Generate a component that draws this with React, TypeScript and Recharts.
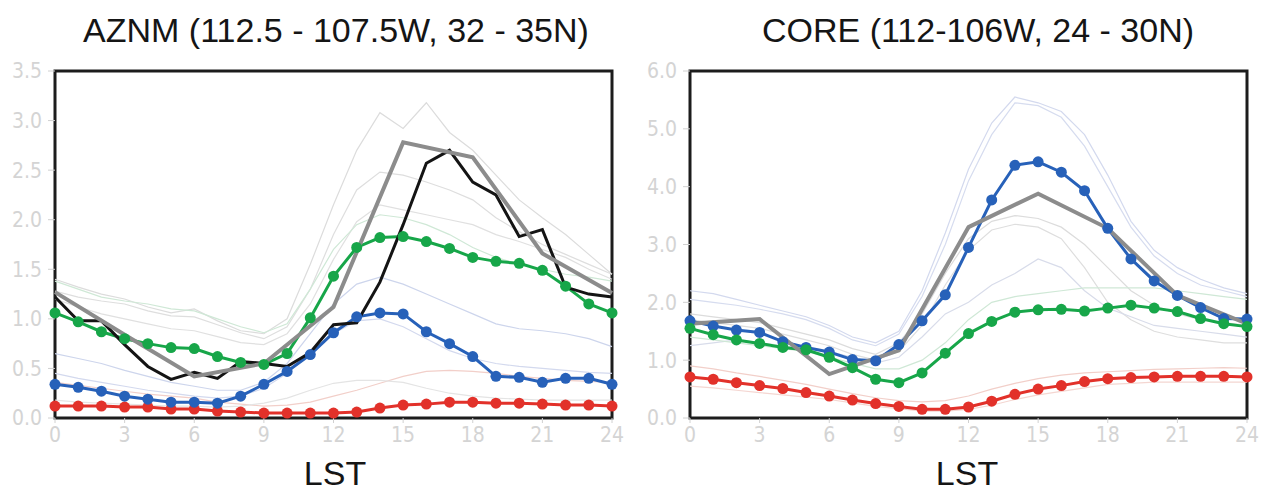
import { LineChart, Line, XAxis, YAxis, ReferenceArea } from "recharts";

const hours = [0, 1, 2, 3, 4, 5, 6, 7, 8, 9, 10, 11, 12, 13, 14, 15, 16, 17, 18, 19, 20, 21, 22, 23, 24];
const hourTicks = [0, 3, 6, 9, 12, 15, 18, 21, 24];

// AZNM panel
const azGreen = [1.06, 0.97, 0.87, 0.8, 0.75, 0.71, 0.7, 0.62, 0.56, 0.54, 0.65, 1.01, 1.43, 1.72, 1.82, 1.83, 1.78, 1.71, 1.62, 1.58, 1.56, 1.49, 1.33, 1.15, 1.06];
const azBlue = [0.34, 0.31, 0.27, 0.22, 0.19, 0.16, 0.16, 0.15, 0.22, 0.34, 0.47, 0.64, 0.86, 1.02, 1.06, 1.05, 0.87, 0.75, 0.62, 0.42, 0.41, 0.36, 0.4, 0.4, 0.34];
const azRed = [0.12, 0.12, 0.12, 0.11, 0.11, 0.09, 0.09, 0.07, 0.06, 0.05, 0.05, 0.05, 0.05, 0.06, 0.1, 0.13, 0.14, 0.16, 0.16, 0.15, 0.15, 0.14, 0.13, 0.13, 0.12];
const azObs = [1.22, 0.98, 0.98, 0.74, 0.52, 0.39, 0.46, 0.4, 0.57, 0.55, 0.52, 0.66, 0.94, 0.96, 1.37, 1.95, 2.57, 2.7, 2.38, 2.25, 1.83, 1.9, 1.32, 1.25, 1.22];
const azGray = [1.27, null, null, 0.84, null, null, 0.42, null, null, 0.55, null, null, 1.12, null, null, 2.78, null, null, 2.63, null, null, 1.66, null, null, 1.26];
const azFaint = [
  { color: "#dcdcdc", values: [1.4, 1.32, 1.25, 1.2, 1.12, 1.06, 1.1, 0.98, 0.88, 0.85, 1.0, 1.55, 2.15, 2.7, 3.08, 2.92, 3.18, 2.88, 2.7, 2.45, 2.2, 2.02, 1.85, 1.65, 1.45] },
  { color: "#dedede", values: [1.28, 1.22, 1.18, 1.15, 1.08, 1.03, 1.02, 0.94, 0.86, 0.8, 0.92, 1.3, 1.85, 2.3, 2.48, 2.45, 2.38, 2.3, 2.2, 2.02, 1.88, 1.75, 1.65, 1.55, 1.45] },
  { color: "#e0e0e0", values: [1.2, 1.12, 1.05, 1.0, 0.95, 0.9, 0.88, 0.82, 0.76, 0.74, 0.85, 1.15, 1.6, 1.98, 2.15, 2.1, 2.05, 2.0, 1.95, 1.85, 1.78, 1.7, 1.62, 1.5, 1.4] },
  { color: "#cfe8d6", values: [1.38, 1.3, 1.22, 1.18, 1.15, 1.1, 1.08, 1.0, 0.92, 0.86, 0.95, 1.3, 1.7, 1.95, 2.05, 2.02, 1.95, 1.85, 1.72, 1.62, 1.55, 1.5, 1.45, 1.42, 1.38] },
  { color: "#cdd5ec", values: [0.65, 0.6, 0.55, 0.48, 0.42, 0.36, 0.32, 0.28, 0.28, 0.36, 0.55, 0.85, 1.15, 1.35, 1.42, 1.35, 1.25, 1.15, 1.05, 0.95, 0.9, 0.88, 0.85, 0.8, 0.72] },
  { color: "#d3d9ee", values: [0.45, 0.4, 0.36, 0.32, 0.28, 0.25, 0.22, 0.2, 0.22, 0.3, 0.45, 0.65, 0.85, 0.98, 1.0, 0.92, 0.8, 0.68, 0.6, 0.55, 0.52, 0.5, 0.48, 0.46, 0.45] },
  { color: "#f2cfc9", values: [0.36, 0.33, 0.3, 0.27, 0.24, 0.22, 0.2, 0.16, 0.14, 0.12, 0.13, 0.16, 0.22, 0.28, 0.35, 0.42, 0.47, 0.48, 0.47, 0.45, 0.42, 0.4, 0.38, 0.37, 0.36] },
  { color: "#e4e4e4", values: [0.18, 0.16, 0.15, 0.14, 0.13, 0.12, 0.12, 0.11, 0.12, 0.15, 0.2, 0.28, 0.35, 0.38, 0.38, 0.36, 0.3, 0.25, 0.22, 0.2, 0.19, 0.18, 0.18, 0.18, 0.18] },
];
const azTicks = [0, 0.5, 1, 1.5, 2, 2.5, 3, 3.5];

// CORE panel
const coreGreen = [1.55, 1.44, 1.35, 1.29, 1.22, 1.18, 1.05, 0.87, 0.67, 0.61, 0.78, 1.12, 1.46, 1.67, 1.83, 1.87, 1.88, 1.85, 1.9, 1.95, 1.9, 1.84, 1.72, 1.63, 1.58];
const coreBlue = [1.68, 1.59, 1.52, 1.48, 1.32, 1.22, 1.14, 1.01, 0.99, 1.27, 1.68, 2.13, 2.95, 3.77, 4.37, 4.43, 4.25, 3.93, 3.28, 2.75, 2.37, 2.12, 1.91, 1.72, 1.71];
const coreRed = [0.71, 0.67, 0.61, 0.56, 0.51, 0.44, 0.38, 0.31, 0.25, 0.2, 0.15, 0.15, 0.19, 0.29, 0.41, 0.5, 0.56, 0.63, 0.68, 0.7, 0.71, 0.72, 0.72, 0.72, 0.71];
const coreGray = [1.63, null, null, 1.71, null, null, 0.76, null, null, 1.17, null, null, 3.3, null, null, 3.88, null, null, 3.28, null, null, 2.12, null, null, 1.63];
const coreFaint = [
  { color: "#d3d9ee", values: [2.2, 2.15, 2.05, 1.95, 1.85, 1.75, 1.6, 1.4, 1.3, 1.5, 2.2, 3.2, 4.3, 5.1, 5.55, 5.45, 5.3, 4.9, 4.2, 3.4, 2.9, 2.6, 2.4, 2.25, 2.15] },
  { color: "#d6dcef", values: [2.05, 2.0, 1.95, 1.88, 1.8, 1.7, 1.55, 1.35, 1.25, 1.45, 2.1, 3.0, 4.1, 4.9, 5.45, 5.4, 5.2, 4.7, 4.0, 3.3, 2.8, 2.5, 2.3, 2.2, 2.1] },
  { color: "#dcdcdc", values: [1.8, 1.75, 1.7, 1.65, 1.55, 1.45, 1.35, 1.2, 1.1, 1.3, 1.8, 2.5, 3.1, 3.4, 3.5, 3.45, 3.3, 3.0, 2.6, 2.2, 1.95, 1.8, 1.7, 1.65, 1.6] },
  { color: "#dedede", values: [1.7, 1.65, 1.6, 1.55, 1.45, 1.35, 1.25, 1.1, 1.0, 1.15, 1.6, 2.3, 2.9, 3.25, 3.35, 3.3, 3.1, 2.6, 2.0, 1.7, 1.5, 1.4, 1.35, 1.3, 1.3] },
  { color: "#d8dcea", values: [1.25, 1.3, 1.35, 1.3, 1.25, 1.2, 1.15, 1.05, 0.95, 1.05, 1.4, 1.8, 2.0, 2.3, 2.5, 2.75, 2.6, 2.2, 1.9, 1.75, 1.6, 1.55, 1.5, 1.45, 1.4] },
  { color: "#cfe8d6", values: [1.4, 1.35, 1.3, 1.25, 1.2, 1.15, 1.05, 0.95, 0.85, 0.85, 1.0, 1.3, 1.7, 2.0, 2.1, 2.15, 2.2, 2.25, 2.25, 2.25, 2.25, 2.2, 2.15, 2.1, 2.05] },
  { color: "#f2cfc9", values: [0.9, 0.85, 0.78, 0.72, 0.65, 0.58, 0.5, 0.42, 0.35, 0.3, 0.28, 0.3, 0.38, 0.5, 0.6, 0.68, 0.74, 0.78, 0.8, 0.82, 0.84, 0.85, 0.86, 0.87, 0.86] },
  { color: "#f4d6d1", values: [0.55, 0.52, 0.48, 0.44, 0.4, 0.36, 0.32, 0.26, 0.2, 0.16, 0.12, 0.12, 0.15, 0.22, 0.32, 0.4, 0.46, 0.52, 0.58, 0.6, 0.62, 0.62, 0.62, 0.62, 0.62] },
];
const coreTicks = [0, 1, 2, 3, 4, 5, 6];

const GREEN = "#17a649";
const BLUE = "#2761b9";
const RED = "#e2312a";
const BLACK = "#141414";
const GRAY = "#8c8c8c";

const tickFont = { fill: "#d4d4d4", fontSize: 21, fontFamily: "'Liberation Sans Narrow', 'DejaVu Sans Condensed', sans-serif" };

interface PanelProps {
  green: number[];
  blue: number[];
  red: number[];
  obs?: number[];
  gray: (number | null)[];
  faint: { color: string; values: number[] }[];
  yTicks: number[];
  width: number;
  marginLeft: number;
  marginRight: number;
}

function Panel({ green, blue, red, obs, gray, faint, yTicks, width, marginLeft, marginRight }: PanelProps) {
  const yMax = yTicks[yTicks.length - 1];
  const rows = hours.map((h, i) => {
    const row: Record<string, number | null> = {
      h,
      green: green[i],
      blue: blue[i],
      red: red[i],
      gray: gray[i],
    };
    if (obs) row.obs = obs[i];
    faint.forEach((f, k) => {
      row[`f${k}`] = f.values[i];
    });
    return row;
  });

  const dotted = (color: string) => ({ r: 5.5, fill: color, stroke: color, strokeWidth: 0 });

  return (
    <LineChart
      data={rows}
      height={492}
      margin={{ bottom: 44, left: marginLeft, right: marginRight, top: 71 }}
      width={width}
    >
      <XAxis
        axisLine={false}
        dataKey="h"
        domain={[0, 24]}
        height={30}
        tick={tickFont}
        tickLine={{ stroke: "#d0d0d0" }}
        tickMargin={4}
        tickSize={5}
        ticks={hourTicks}
        type="number"
      />
      <YAxis
        axisLine={false}
        domain={[0, yMax]}
        tick={tickFont}
        tickFormatter={(v: number) => v.toFixed(1)}
        tickLine={{ stroke: "#d0d0d0" }}
        tickMargin={6}
        tickSize={7}
        ticks={yTicks}
        type="number"
        width={45}
      />
      {faint.map((f, k) => (
        <Line
          key={k}
          activeDot={false}
          dataKey={`f${k}`}
          dot={false}
          isAnimationActive={false}
          stroke={f.color}
          strokeWidth={1.2}
          type="linear"
        />
      ))}
      <Line activeDot={false} dataKey="red" dot={dotted(RED)} isAnimationActive={false} stroke={RED} strokeWidth={3} type="linear" />
      <Line activeDot={false} dataKey="blue" dot={dotted(BLUE)} isAnimationActive={false} stroke={BLUE} strokeWidth={3} type="linear" />
      <Line activeDot={false} dataKey="green" dot={dotted(GREEN)} isAnimationActive={false} stroke={GREEN} strokeWidth={3} type="linear" />
      {obs && (
        <Line activeDot={false} dataKey="obs" dot={false} isAnimationActive={false} stroke={BLACK} strokeWidth={3} type="linear" />
      )}
      <Line
        activeDot={false}
        connectNulls
        dataKey="gray"
        dot={false}
        isAnimationActive={false}
        stroke={GRAY}
        strokeWidth={4}
        type="linear"
      />
      <ReferenceArea fill="none" stroke="#1c1c1c" strokeWidth={3} x1={0} x2={24} y1={0} y2={yMax} />
    </LineChart>
  );
}

const titleStyle: React.CSSProperties = {
  position: "absolute",
  fontFamily: "'Liberation Sans', Arial, sans-serif",
  fontSize: 34,
  lineHeight: "34px",
  color: "#151515",
  textAlign: "center",
  whiteSpace: "nowrap",
};

export default function App() {
  return (
    <div style={{ position: "absolute", left: 0, top: 0, width: 1270, height: 492, background: "#fff", overflow: "hidden" }}>
      <div style={{ position: "absolute", left: 0, top: 0 }}>
        <Panel
          blue={azBlue}
          faint={azFaint}
          gray={azGray}
          green={azGreen}
          marginLeft={10}
          marginRight={28}
          obs={azObs}
          red={azRed}
          width={640}
          yTicks={azTicks}
        />
      </div>
      <div style={{ position: "absolute", left: 640, top: 0 }}>
        <Panel
          blue={coreBlue}
          faint={coreFaint}
          gray={coreGray}
          green={coreGreen}
          marginLeft={5}
          marginRight={23}
          red={coreRed}
          width={630}
          yTicks={coreTicks}
        />
      </div>
      <div style={{ ...titleStyle, left: 36, top: 13, width: 600 }}>AZNM (112.5 - 107.5W, 32 - 35N)</div>
      <div style={{ ...titleStyle, left: 678, top: 13, width: 600 }}>CORE (112-106W, 24 - 30N)</div>
      <div style={{ ...titleStyle, left: 235, top: 456, width: 200 }}>LST</div>
      <div style={{ ...titleStyle, left: 867, top: 456, width: 200 }}>LST</div>
    </div>
  );
}
